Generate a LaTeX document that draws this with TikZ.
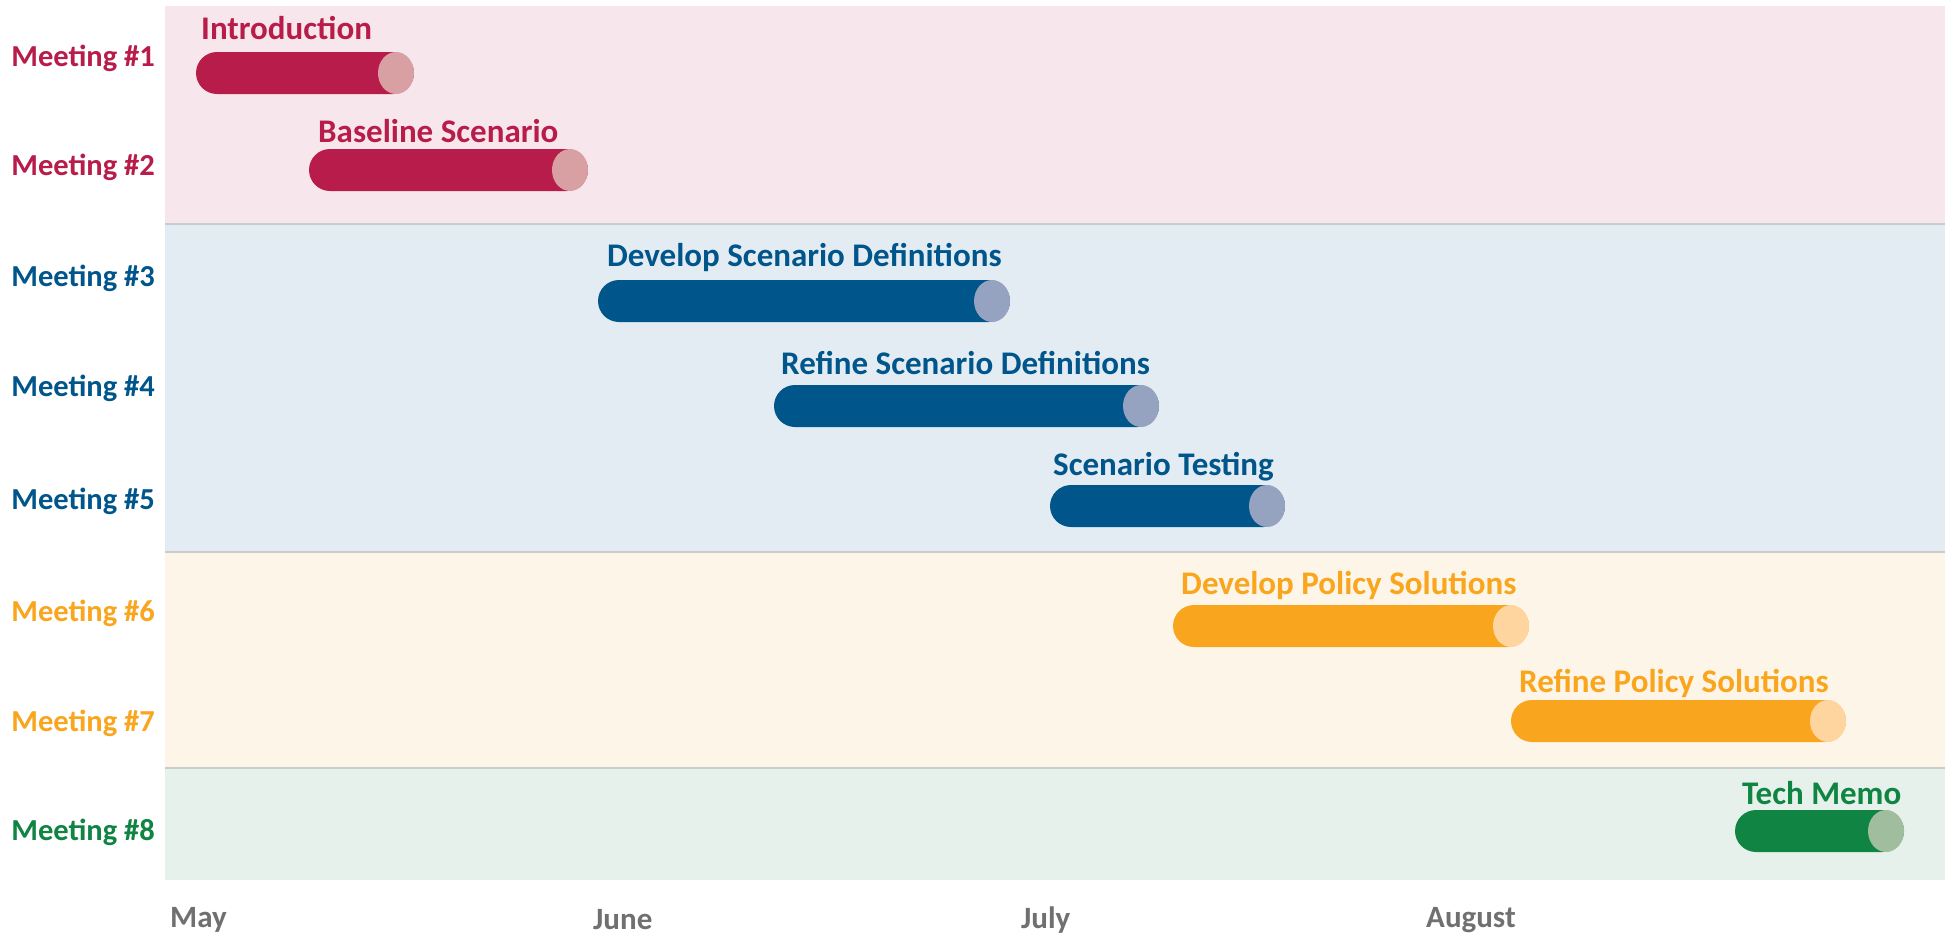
\documentclass[tikz,border=0pt]{standalone}
\usepackage{fontspec}
\setmainfont{Carlito}
\definecolor{pinkbg}{HTML}{F7E7EC}
\definecolor{bluebg}{HTML}{E4ECF3}
\definecolor{orangebg}{HTML}{FEF5E9}
\definecolor{greenbg}{HTML}{E7F1EB}
\definecolor{crim}{HTML}{B71C4A}
\definecolor{crimlt}{HTML}{D9A0A4}
\definecolor{navy}{HTML}{00558A}
\definecolor{navylt}{HTML}{95A3C1}
\definecolor{amber}{HTML}{F9A61E}
\definecolor{amberlt}{HTML}{FED59E}
\definecolor{forest}{HTML}{0F8443}
\definecolor{forestlt}{HTML}{A0BE9E}
\definecolor{sepline}{HTML}{C9CCCC}
\definecolor{monthgray}{HTML}{707070}
\tikzset{
  meet/.style={anchor=east, font=\fontsize{30.5}{32}\selectfont\bfseries, inner sep=0pt},
  task/.style={anchor=west, font=\fontsize{33}{34}\selectfont\bfseries, inner sep=0pt},
  month/.style={anchor=west, font=\fontsize{31}{32}\selectfont\bfseries, text=monthgray, inner sep=0pt},
  sep/.style={draw=sepline, line width=1.5pt},
}
% bar: #1 left x, #2 right x, #3 center y, #4 dark colour, #5 light colour, #6 name
\newcommand{\ganttbar}[6]{%
  \fill[#4, rounded corners=21pt] (#1,#3-21) rectangle (#2,#3+21);
  \fill[#5] (#2-18,#3) ellipse [x radius=18pt, y radius=21pt];
  \coordinate (#6) at (#1,#3);
}
\begin{document}
\begin{tikzpicture}[x=1pt,y=-1pt]
\useasboundingbox (0,0) rectangle (1948,937);
\fill[white] (0,0) rectangle (1948,937);
% bands
\fill[pinkbg] (165,6) rectangle (1945,224);
\fill[bluebg] (165,224) rectangle (1945,552);
\fill[orangebg] (165,552) rectangle (1945,768);
\fill[greenbg] (165,768) rectangle (1945,880);
\draw[sep] (165,224) -- (1945,224);
\draw[sep] (165,552) -- (1945,552);
\draw[sep] (165,768) -- (1945,768);
% meeting labels
\node[meet, text=crim] (m1) at (155,58) {Meeting \#1};
\node[meet, text=crim] (m2) at (155,167) {Meeting \#2};
\node[meet, text=navy] (m3) at (155,278) {Meeting \#3};
\node[meet, text=navy] (m4) at (155,388) {Meeting \#4};
\node[meet, text=navy] (m5) at (155,501) {Meeting \#5};
\node[meet, text=amber] (m6) at (155,613) {Meeting \#6};
\node[meet, text=amber] (m7) at (155,723) {Meeting \#7};
\node[meet, text=forest] (m8) at (155,832) {Meeting \#8};
% bars
\ganttbar{196}{414}{73}{crim}{crimlt}{b1}
\ganttbar{309}{588}{170}{crim}{crimlt}{b2}
\ganttbar{598}{1010}{301}{navy}{navylt}{b3}
\ganttbar{774}{1159}{406}{navy}{navylt}{b4}
\ganttbar{1050}{1285}{506}{navy}{navylt}{b5}
\ganttbar{1173}{1529}{626}{amber}{amberlt}{b6}
\ganttbar{1511}{1846}{721}{amber}{amberlt}{b7}
\ganttbar{1735}{1904}{831}{forest}{forestlt}{b8}
% task labels
\node[task, text=crim] (t1) at (201,28) {Introduction};
\node[task, text=crim] (t2) at (318,131) {Baseline Scenario};
\node[task, text=navy] (t3) at (607,257) {Develop Scenario Definitions};
\node[task, text=navy] (t4) at (781,363) {Refine Scenario Definitions};
\node[task, text=navy] (t5) at (1053,467) {Scenario Testing};
\node[task, text=amber] (t6) at (1181,585) {Develop Policy Solutions};
\node[task, text=amber] (t7) at (1519,683) {Refine Policy Solutions};
\node[task, text=forest] (t8) at (1742,793) {Tech Memo};
% months
\node[month] (may) at (170,920) {May};
\node[month] (jun) at (593,920) {June};
\node[month] (jul) at (1021,920) {July};
\node[month] (aug) at (1426,920) {August};
\end{tikzpicture}
\end{document}
